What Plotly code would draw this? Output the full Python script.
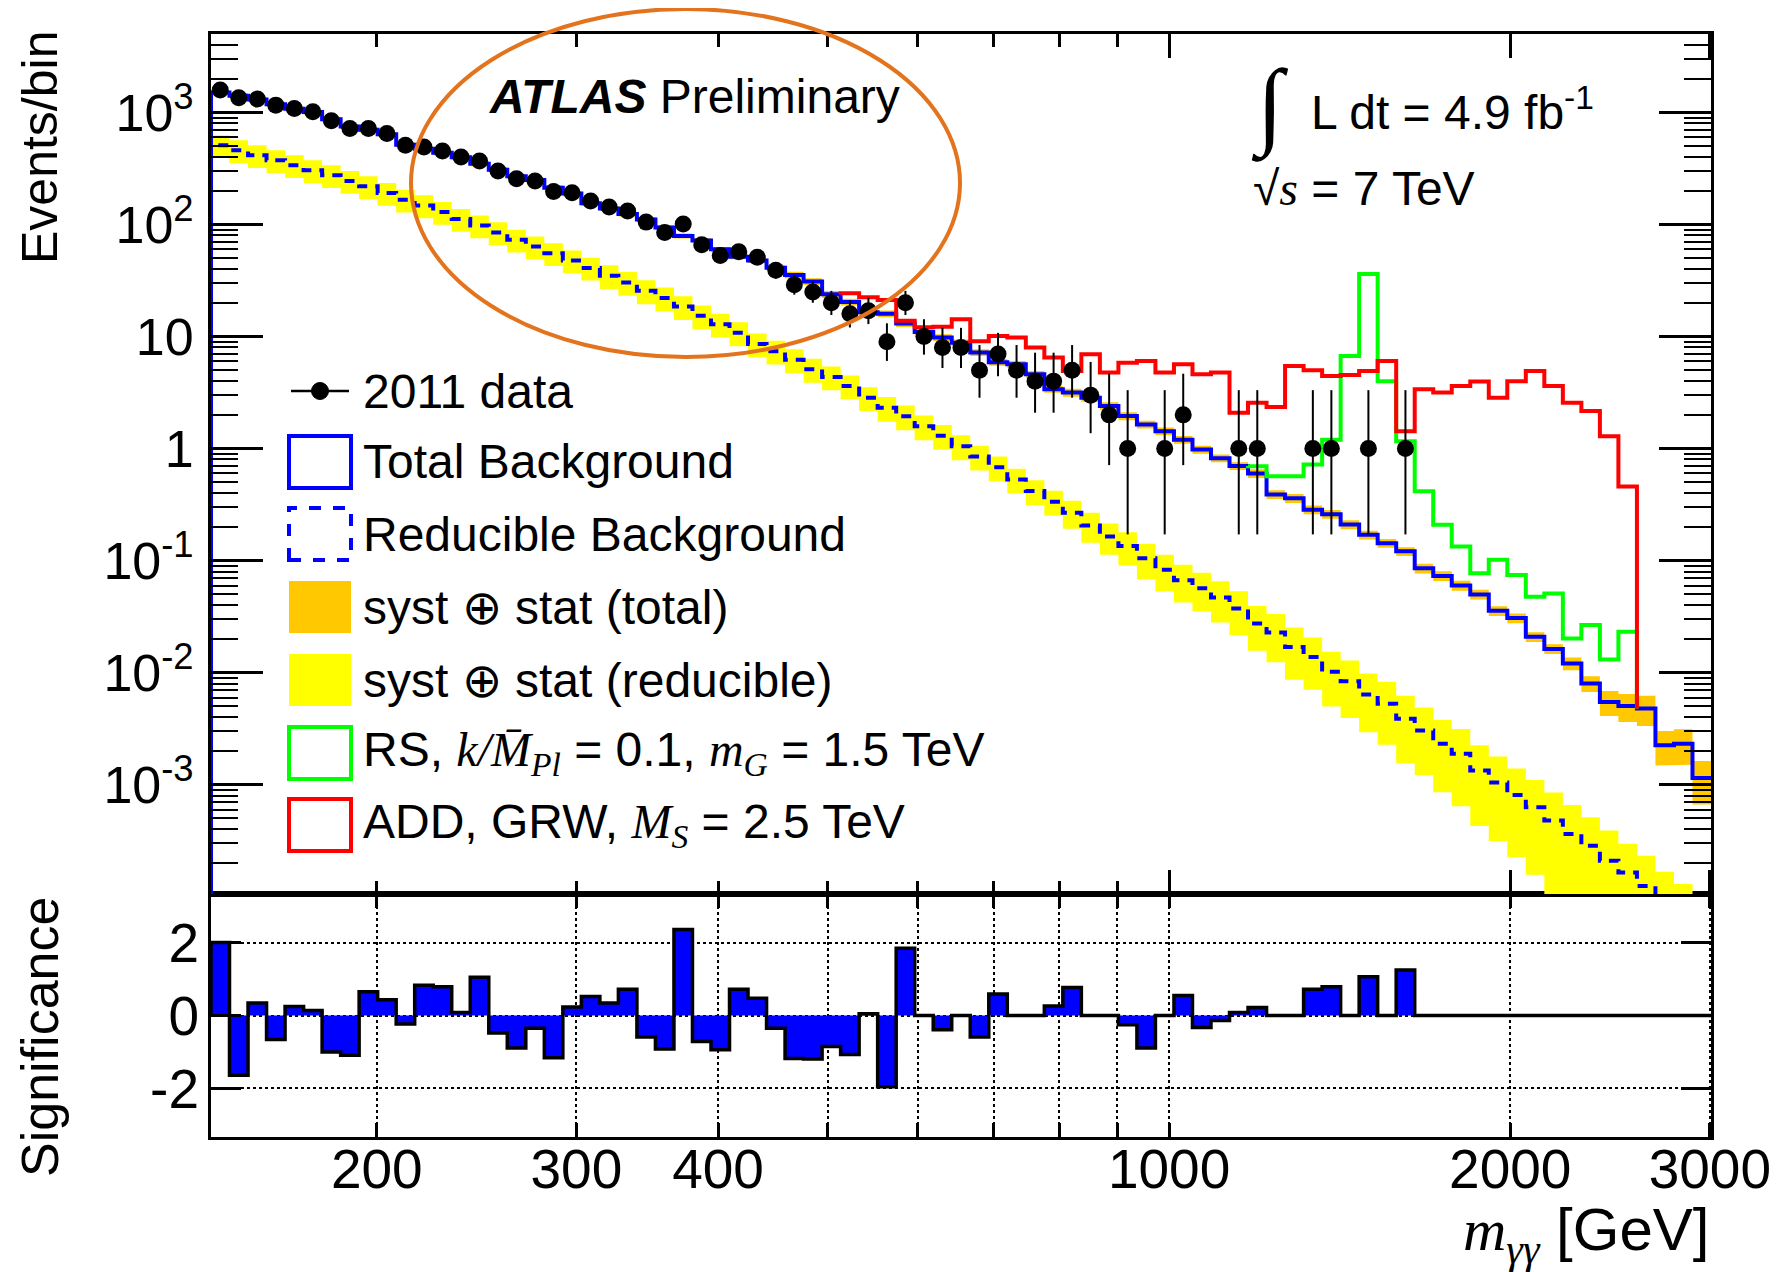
import math
import plotly.graph_objects as go

# ---------------- data ----------------
bin_edges = [
    142.80, 148.27, 153.96, 159.86, 165.99, 172.35, 178.96, 185.82, 192.94, 200.34,
    208.02, 215.99, 224.27, 232.87, 241.80, 251.07, 260.69, 270.69, 281.07, 291.84,
    303.03, 314.65, 326.71, 339.23, 352.24, 365.74, 379.76, 394.32, 409.44, 425.14,
    441.44, 458.36, 475.93, 494.18, 513.12, 532.79, 553.22, 574.43, 596.45, 619.32,
    643.06, 667.71, 693.31, 719.89, 747.49, 776.15, 805.90, 836.80, 868.88, 902.19,
    936.78, 972.69, 1009.98, 1048.70, 1088.90, 1130.65, 1174.00, 1219.00, 1265.74, 1314.26,
    1364.65, 1416.97, 1471.29, 1527.70, 1586.27, 1647.08, 1710.22, 1775.79, 1843.87, 1914.56,
    1987.96, 2064.17, 2143.30, 2225.47, 2310.79, 2399.38, 2491.36, 2586.88, 2686.05, 2789.03,
    2895.95, 3006.97,
]

data_counts = [
    1585, 1352, 1315, 1162, 1086, 1012, 841, 719, 719, 649,
    510, 492, 453, 401, 369, 300, 256, 244, 197, 192,
    162, 143, 132, 105, 85, 101, 66, 53, 57, 51,
    39, 29, 25, 20, 16, 17, 9, 20, 10, 8,
    8, 5, 7, 5, 4, 4, 5, 3, 2, 1,
    0, 1, 2, 0, 0, 1, 1, 0, 0, 1,
    1, 0, 1, 0, 1, 0, 0, 0, 0, 0,
    0, 0, 0, 0, 0, 0, 0, 0, 0, 0,
    0,
]

total_bkg = [
    1505, 1412, 1303, 1185, 1078, 1008, 870, 748, 702, 638,
    515, 474, 436, 399, 349, 308, 270, 250, 213, 189,
    155, 139, 124, 111, 94, 79, 72, 60, 51.6, 47.6,
    41.2, 35.4, 31.0, 23.8, 20.3, 16.5, 16.0, 13.1, 11.0, 9.8,
    8.8, 7.2, 5.9, 5.66, 4.6, 3.38, 3.16, 2.85, 2.4, 1.95,
    1.64, 1.43, 1.2, 0.98, 0.82, 0.70, 0.60, 0.39, 0.36, 0.285,
    0.26, 0.21, 0.17, 0.143, 0.121, 0.0855, 0.073, 0.060, 0.050, 0.0357,
    0.0307, 0.0209, 0.0163, 0.0121, 0.0080, 0.00548, 0.00505, 0.00478, 0.00225, 0.00232,
    0.00115,
]

reducible_bkg = [
    509, 459, 415, 374, 338, 305, 275, 244, 219, 191,
    166, 148, 129, 112, 98, 85, 73, 63.5, 55.4, 47.6,
    41, 34.9, 30.4, 25.6, 22.1, 18.5, 15.3, 12.9, 10.8, 8.6,
    7.4, 6.2, 5.1, 4.36, 3.62, 2.85, 2.31, 1.94, 1.58, 1.30,
    1.05, 0.85, 0.68, 0.53, 0.418, 0.336, 0.268, 0.206, 0.164, 0.135,
    0.105, 0.083, 0.067, 0.0566, 0.0468, 0.0375, 0.0275, 0.0229, 0.017, 0.0138,
    0.0102, 0.0084, 0.0064, 0.00529, 0.00389, 0.00305, 0.00232, 0.00189, 0.00134, 0.00105,
    0.00081, 0.00063, 0.00048, 0.000363, 0.000286, 0.00021, 0.000165, 0.000125, 0.00009, 0.00007,
    0.00005,
]

# relative syst (+) stat uncertainty, total background (orange band)
total_unc = [
    0.05, 0.05, 0.05, 0.05, 0.05, 0.05, 0.05, 0.05, 0.05, 0.05,
    0.05, 0.05, 0.05, 0.05, 0.05, 0.05, 0.05, 0.05, 0.05, 0.05,
    0.05, 0.05, 0.05, 0.05, 0.05, 0.05, 0.05, 0.05, 0.05, 0.05,
    0.05, 0.07, 0.07, 0.07, 0.07, 0.07, 0.07, 0.07, 0.07, 0.07,
    0.07, 0.07, 0.07, 0.07, 0.07, 0.07, 0.08, 0.08, 0.08, 0.08,
    0.08, 0.08, 0.08, 0.08, 0.08, 0.08, 0.09, 0.09, 0.09, 0.09,
    0.09, 0.09, 0.09, 0.09, 0.09, 0.10, 0.10, 0.10, 0.10, 0.10,
    0.10, 0.10, 0.10, 0.13, 0.16, 0.25, 0.28, 0.30, 0.34, 0.35,
    0.42,
]

# relative syst (+) stat uncertainty, reducible background (yellow band)
reducible_unc = [
    0.23, 0.23, 0.23, 0.23, 0.23, 0.23, 0.23, 0.23, 0.23, 0.23,
    0.23, 0.23, 0.23, 0.23, 0.23, 0.23, 0.23, 0.23, 0.23, 0.23,
    0.23, 0.24, 0.24, 0.24, 0.24, 0.24, 0.24, 0.24, 0.24, 0.24,
    0.24, 0.24, 0.24, 0.24, 0.24, 0.24, 0.25, 0.25, 0.25, 0.25,
    0.25, 0.25, 0.25, 0.25, 0.25, 0.25, 0.28, 0.30, 0.31, 0.33,
    0.35, 0.36, 0.37, 0.38, 0.40, 0.42, 0.43, 0.46, 0.49, 0.49,
    0.51, 0.53, 0.54, 0.57, 0.60, 0.60, 0.63, 0.66, 0.68, 0.70,
    0.72, 0.75, 0.78, 0.82, 0.79, 0.86, 0.80, 0.86, 0.86, 0.86,
    0.86,
]

# RS graviton (signal + background), bins 56..76
rs_first_bin = 56
rs_signal = [
    0.695, 0.566, 0.566, 0.72, 1.2, 6.7, 36.2, 4.0, 1.16, 0.416,
    0.209, 0.134, 0.077, 0.102, 0.0746, 0.0477, 0.051, 0.0202, 0.0266, 0.0131,
    0.0232,
]

# ADD, GRW (signal + background), bins 34..76
add_first_bin = 34
add_signal = [
    24.3, 22.4, 21.2, 13.8, 12.1, 12.2, 14.3, 9.1, 10.1, 9.8,
    7.98, 6.5, 4.93, 6.95, 4.77, 5.85, 6.05, 4.77, 5.66, 4.6,
    4.77, 2.09, 2.57, 2.35, 5.47, 5.0, 4.45, 4.54, 4.93, 6.05,
    1.43, 3.38, 3.16, 3.62, 3.96, 2.85, 4.0, 4.93, 3.62, 2.57,
    2.16, 1.29, 0.46,
]

significance = [
    2.0, -1.64, 0.34, -0.66, 0.25, 0.14, -1.0, -1.09, 0.65, 0.43,
    -0.23, 0.83, 0.79, 0.08, 1.05, -0.48, -0.89, -0.35, -1.16, 0.23,
    0.52, 0.34, 0.72, -0.59, -0.92, 2.36, -0.71, -0.94, 0.72, 0.47,
    -0.35, -1.18, -1.19, -0.85, -1.07, 0.05, -1.95, 1.84, 0.0, -0.39,
    0.0, -0.59, 0.59, 0.0, 0.0, 0.26, 0.77, 0.0, 0.0, -0.25,
    -0.89, 0.0, 0.55, -0.33, -0.14, 0.08, 0.22, 0.0, 0.0, 0.72,
    0.79, 0.0, 1.06, 0.0, 1.25, 0.0, 0.0, 0.0, 0.0, 0.0,
    0.0, 0.0, 0.0, 0.0, 0.0, 0.0, 0.0, 0.0, 0.0, 0.0,
    0.0,
]

x_label_vals = [200, 300, 400, 1000, 2000, 3000]
x_label_text = ["200", "300", "400", "1000", "2000", "3000"]
x_minor_vals = [500, 600, 700, 800, 900]
y_tick_vals = [1e-3, 1e-2, 1e-1, 1, 10, 100, 1000]
y_tick_text = ["10<sup>-3</sup>", "10<sup>-2</sup>", "10<sup>-1</sup>", "1", "10",
               "10<sup>2</sup>", "10<sup>3</sup>"]
sig_tick_vals = [-2, 0, 2]
sig_tick_text = ["-2", "0", "2"]

# ---------------- geometry ----------------
# page body has an 8 px margin; plot area wanted at page x 211..1711, y 34..1137
PAGE_OFF = 8
L, R, T, B = 211, 1711, 34, 1137
W = R + 81 - PAGE_OFF
H = B + 135 - PAGE_OFF
split = 0.2203
x_range = [math.log10(bin_edges[0]), math.log10(bin_edges[-1])]
y_top_range = [-3.975, 3.70]
y_sig_range = [-3.33, 3.33]
ymin_top = 10 ** y_top_range[0]


def px(X):
    return (X - L) / (R - L)


def py(Y):
    return (B - Y) / (B - T)


nb = len(data_counts)
centers = [math.sqrt(bin_edges[i] * bin_edges[i + 1]) for i in range(nb)]


def band(center, rel):
    xs, ys = [], []
    for i in range(len(center)):
        hi = center[i] * (1 + rel[i])
        xs += [bin_edges[i], bin_edges[i + 1]]
        ys += [hi, hi]
    for i in reversed(range(len(center))):
        lo = center[i] * (1 - rel[i])
        xs += [bin_edges[i + 1], bin_edges[i]]
        ys += [lo, lo]
    xs.append(xs[0])
    ys.append(ys[0])
    return xs, ys


def step(values, first, start=None, end=None):
    xs, ys = [], []
    if start is not None:
        xs.append(bin_edges[first])
        ys.append(start)
    for i, v in enumerate(values):
        xs.append(bin_edges[first + i])
        ys.append(v)
    xs.append(bin_edges[first + len(values)])
    ys.append(values[-1] if end is None else end)
    return xs, ys


fig = go.Figure()
TOP = dict(xaxis="x2", yaxis="y2")
NOLINE = dict(width=0, color="rgba(0,0,0,0)")

# yellow band (reducible)
bx, by = band(reducible_bkg, reducible_unc)
fig.add_trace(go.Scatter(x=bx, y=by, mode="lines", fill="toself", fillcolor="#FFFF00",
                         line=NOLINE, hoverinfo="skip", **TOP))
# reducible background (dashed)
sx, sy = step(reducible_bkg, 0, start=ymin_top)
fig.add_trace(go.Scatter(x=sx, y=sy, mode="lines",
                         line=dict(color="#0000FF", width=4, dash="10px,8px", shape="hv"), **TOP))
# orange band (total)
bx, by = band(total_bkg, total_unc)
fig.add_trace(go.Scatter(x=bx, y=by, mode="lines", fill="toself", fillcolor="#FFC800",
                         line=NOLINE, hoverinfo="skip", **TOP))
# total background
sx, sy = step(total_bkg, 0, start=ymin_top)
fig.add_trace(go.Scatter(x=sx, y=sy, mode="lines", line=dict(color="#0000FF", width=4, shape="hv"), **TOP))
# RS graviton
sx, sy = step(rs_signal, rs_first_bin, start=total_bkg[rs_first_bin - 1],
              end=total_bkg[rs_first_bin + len(rs_signal)])
fig.add_trace(go.Scatter(x=sx, y=sy, mode="lines", line=dict(color="#00FF00", width=4, shape="hv"), **TOP))
# ADD
sx, sy = step(add_signal, add_first_bin, start=total_bkg[add_first_bin - 1],
              end=total_bkg[add_first_bin + len(add_signal)])
fig.add_trace(go.Scatter(x=sx, y=sy, mode="lines", line=dict(color="#FF0000", width=4, shape="hv"), **TOP))

# data with Poisson (Gehrels) error bars
dx, dy, ehi, elo = [], [], [], []
for c, n in zip(centers, data_counts):
    if n <= 0:
        continue
    up = n + 1 + math.sqrt(n + 0.75)
    lo = n * (1 - 1 / (9 * n) - 1 / (3 * math.sqrt(n))) ** 3
    dx.append(c)
    dy.append(n)
    ehi.append(up - n)
    elo.append(n - lo)
fig.add_trace(go.Scatter(x=dx, y=dy, mode="markers",
                         marker=dict(color="black", size=17),
                         error_y=dict(type="data", symmetric=False, array=ehi, arrayminus=elo,
                                      width=0, thickness=2, color="black"),
                         **TOP))

# significance histogram
gx, gy = step(significance, 0, start=0, end=0)
fig.add_trace(go.Scatter(x=gx, y=gy, mode="lines", fill="tozeroy", fillcolor="#0000FF",
                         line=dict(color="black", width=3.5, shape="hv"), xaxis="x", yaxis="y"))

# ---------------- axes ----------------
common = dict(showline=True, linecolor="black", linewidth=3, mirror="allticks",
              ticks="inside", tickcolor="black", tickwidth=2.5, zeroline=False)
minor_y = [m * 10 ** e for e in range(-4, 4) for m in range(2, 10)]
dotgrid = dict(showgrid=True, gridcolor="black", griddash="dot", gridwidth=2)

fig.update_layout(
    width=W, height=H,
    margin=dict(l=L - PAGE_OFF, r=81, t=T - PAGE_OFF, b=135, pad=0),
    paper_bgcolor="white", plot_bgcolor="white",
    showlegend=False,
    font=dict(family="Liberation Sans, Arial, sans-serif", size=46, color="black"),
    xaxis=dict(domain=[0, 1], anchor="y", type="log", range=x_range,
               tickmode="array", tickvals=x_label_vals, ticktext=x_label_text, ticklen=14,
               tickfont=dict(size=55), ticklabelstandoff=-18,
               minor=dict(tickmode="array", tickvals=x_minor_vals, ticks="inside", ticklen=14,
                          tickwidth=2.5, tickcolor="black", **dotgrid),
               **dotgrid, **common),
    yaxis=dict(domain=[0, split], anchor="x", range=y_sig_range,
               tickmode="array", tickvals=sig_tick_vals, ticktext=sig_tick_text, ticklen=30,
               tickfont=dict(size=55), ticklabelstandoff=-2, **dotgrid, **common),
    xaxis2=dict(domain=[0, 1], anchor="y2", type="log", range=x_range, matches="x",
                tickmode="array", tickvals=[1000, 2000, 3000], ticklen=24, showticklabels=False,
                showgrid=False,
                minor=dict(tickmode="array", tickvals=[200, 300, 400] + x_minor_vals,
                           ticks="inside", ticklen=13, tickwidth=2.5, tickcolor="black"),
                **common),
    yaxis2=dict(domain=[split, 1], anchor="x2", type="log", range=y_top_range,
                tickmode="array", tickvals=y_tick_vals, ticktext=y_tick_text, ticklen=52,
                tickfont=dict(size=52), showgrid=False, ticklabelstandoff=4,
                minor=dict(tickmode="array", tickvals=minor_y, ticks="inside", ticklen=27,
                           tickwidth=2, tickcolor="black"),
                **common),
)

# ---------------- texts ----------------
SERIF = "font-family:Liberation Serif"
ann = []


def text(X, Y, s, size=46, xanchor="left", angle=0, family=None):
    d = dict(x=px(X), y=py(Y), xref="paper", yref="paper", text=s, showarrow=False,
             xanchor=xanchor, yanchor="middle", textangle=angle, font=dict(size=size))
    if family:
        d["font"]["family"] = family
    ann.append(d)


text(487, 97, "<b><i>ATLAS</i></b> Preliminary", size=48)
text(1270, 106, "\u222b", size=96, xanchor="center", family="Liberation Serif")
text(1309, 109, "L dt = 4.9 fb<sup>-1</sup>", size=48)
text(1251, 188, "\u221a<span style='%s'><i>s</i></span> = 7 TeV" % SERIF, size=48)

# axis titles
text(40, 148, "Events/bin", size=50, xanchor="center", angle=-90)
text(40, 1037, "Significance", size=52, xanchor="center", angle=-90)
text(1712, 1234, "<span style='%s'><i>m</i><sub><i>\u03b3\u03b3</i></sub></span> [GeV]" % SERIF,
     size=60, xanchor="right")

# legend
leg_x0, leg_x1, leg_tx = 289, 351, 361
rows = [391, 462, 534, 607, 680, 753, 825]
labels = [
    "2011 data",
    "Total Background",
    "Reducible Background",
    "syst \u2295 stat (total)",
    "syst \u2295 stat (reducible)",
    "RS, <span style='%s'><i>k/M\u0304</i><sub><i>Pl</i></sub></span> = 0.1, "
    "<span style='%s'><i>m</i><sub><i>G</i></sub></span> = 1.5 TeV" % (SERIF, SERIF),
    "ADD, GRW, <span style='%s'><i>M</i><sub><i>S</i></sub></span> = 2.5 TeV" % SERIF,
]
for Y, lab in zip(rows, labels):
    text(leg_tx, Y, lab, size=48)

shapes = []
# data legend entry
shapes.append(dict(type="line", xref="paper", yref="paper", x0=px(291), x1=px(349),
                   y0=py(rows[0]), y1=py(rows[0]), line=dict(color="black", width=2.5)))
shapes.append(dict(type="circle", xref="paper", yref="paper", x0=px(311.5), x1=px(328.5),
                   y0=py(rows[0] + 8.5), y1=py(rows[0] - 8.5), fillcolor="black",
                   line=dict(color="black", width=1)))
box_styles = [
    dict(line=dict(color="#0000FF", width=4)),
    dict(line=dict(color="#0000FF", width=4, dash="dash")),
    dict(fillcolor="#FFC800", line=dict(width=0)),
    dict(fillcolor="#FFFF00", line=dict(width=0)),
    dict(line=dict(color="#00FF00", width=4)),
    dict(line=dict(color="#FF0000", width=4)),
]
for Y, st in zip(rows[1:], box_styles):
    d = dict(type="rect", xref="paper", yref="paper", x0=px(leg_x0), x1=px(leg_x1),
             y0=py(Y + 26), y1=py(Y - 26))
    d.update(st)
    shapes.append(d)

# orange hand-drawn ellipse overlay
shapes.append(dict(type="circle", xref="paper", yref="paper", x0=px(411), x1=px(960),
                   y0=py(357), y1=py(9), line=dict(color="#E3731C", width=4)))

fig.update_layout(annotations=ann, shapes=shapes)
fig.write_html("out.html")
